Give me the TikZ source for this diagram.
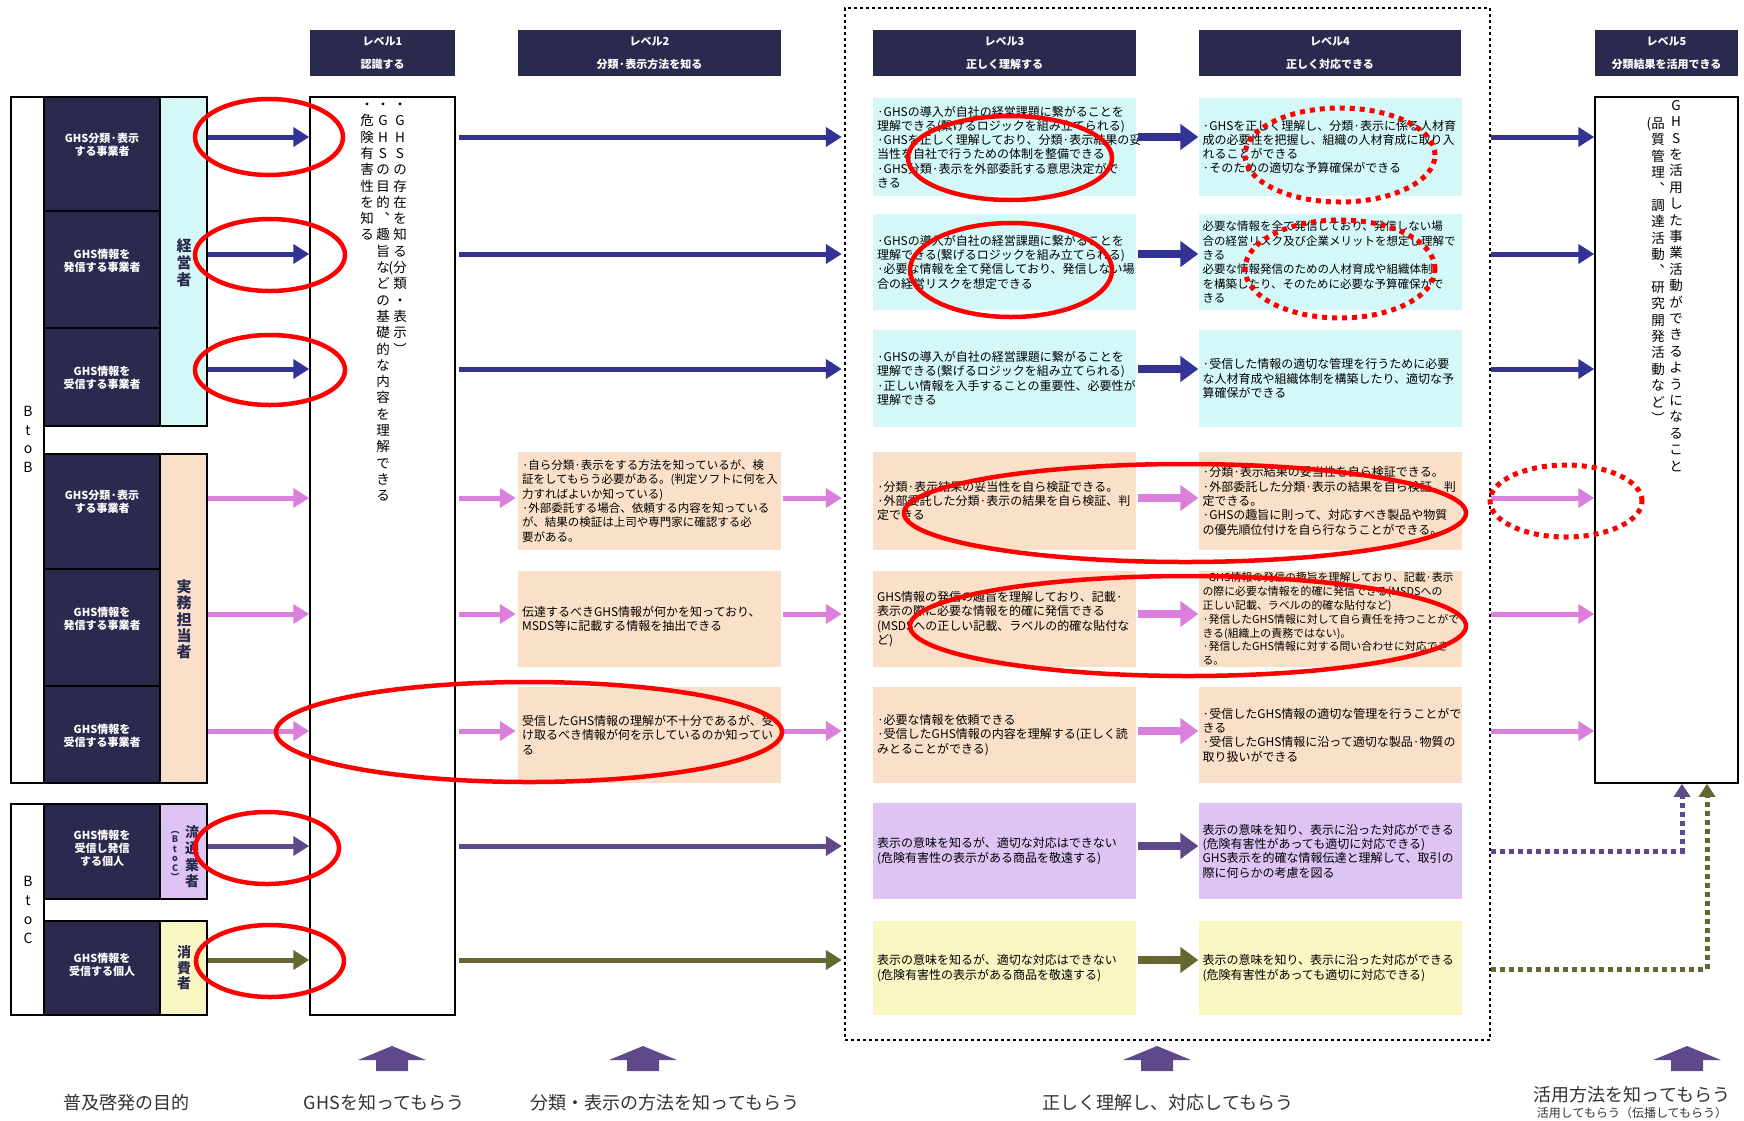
\documentclass[tikz,border=0pt]{standalone}
\usepackage{fontspec}
\setmainfont{Noto Sans CJK JP}
\usetikzlibrary{arrows.meta,calc}

\definecolor{hdrnavy}{RGB}{42,42,78}
\definecolor{flownavy}{RGB}{51,51,150}
\definecolor{flowpink}{RGB}{218,128,220}
\definecolor{flowpurple}{RGB}{96,73,138}
\definecolor{flowolive}{RGB}{102,102,51}
\definecolor{bgcyan}{RGB}{212,248,248}
\definecolor{bgpeach}{RGB}{250,224,200}
\definecolor{bglav}{RGB}{221,196,245}
\definecolor{bgyellow}{RGB}{248,246,194}
\definecolor{ringred}{RGB}{255,0,0}
\definecolor{labgray}{RGB}{50,50,50}

\newcommand\bodyfont{\fontsize{12}{14.3}\selectfont}
\newcommand\tightfont{\fontsize{11.5}{14.3}\selectfont}
\newcommand\hdrfont{\bfseries\fontsize{11}{23}\selectfont}
\newcommand\actorfont{\bfseries\fontsize{11}{13}\selectfont}

% one character per cell, stacked top to bottom
\def\vstkStop{\vstkEnd}
\def\vstkA#1{\def\vstkCur{#1}\ifx\vstkCur\vstkStop\else
  \hbox to 2em{\hss\vrule height .88em depth .12em width 0pt\relax#1\hss}%
  \expandafter\vstkA\fi}
\newcommand\vstk[2]{\vbox{\baselineskip=#1\lineskiplimit=-100pt\lineskip=0pt\vstkA#2\vstkEnd}}

\begin{document}
\begin{tikzpicture}[x=1pt,y=-1pt,
  hdr/.style={fill=hdrnavy, text=white, font=\hdrfont, align=center, minimum height=46pt, inner sep=0pt},
  grp/.style={draw=black, line width=2.2pt, fill=white, inner sep=0pt, minimum width=33pt},
  actor/.style={draw=black, line width=1.2pt, fill=hdrnavy, minimum width=116pt, inner sep=0pt},
  actortext/.style={text=white, font=\actorfont, align=center, inner sep=0pt},
  role/.style={draw=black, line width=1.5pt, minimum width=47pt, inner sep=0pt},
  lvcol/.style={draw=black, line width=1.5pt, fill=white, inner sep=0pt},
  cbox/.style={text width=255pt, inner xsep=4pt, inner ysep=0pt, align=left, font=\bodyfont},
  vtxt/.style={inner sep=0pt, anchor=north},
  flow/.style={line width=5pt, -{Triangle[length=16pt,width=19pt]}},
  flowB/.style={line width=8pt, -{Triangle[length=18pt,width=25pt]}},
  feed/.style={line width=5pt, dash pattern=on 5pt off 4pt, -{Triangle[length=13pt,width=16pt]}},
  ring/.style={draw=ringred, line width=4.5pt},
  dring/.style={draw=ringred, line width=5pt, dash pattern=on 5pt off 5pt},
  botlab/.style={text=labgray, font=\fontsize{18}{20}\selectfont, inner sep=0pt},
  uparrow/.style={fill=flowpurple}
]
\useasboundingbox (0,0) rectangle (1744,1120);
\fill[white] (0,0) rectangle (1744,1120);

% level 3-4 frame
\node[draw, line width=2.6pt, dash pattern=on 3pt off 3pt, minimum width=645pt, minimum height=1032pt, inner sep=0pt] (frame34) at (1167.5,524) {};

% level headers
\node[hdr, minimum width=145pt] (h1) at (382.5,53) {レベル1\\認識する};
\node[hdr, minimum width=263pt] (h2) at (649.5,53) {レベル2\\分類·表示方法を知る};
\node[hdr, minimum width=263pt] (h3) at (1004.5,53) {レベル3\\正しく理解する};
\node[hdr, minimum width=262pt] (h4) at (1330,53) {レベル4\\正しく対応できる};
\node[hdr, minimum width=143pt] (h5) at (1666.5,53) {レベル5\\分類結果を活用できる};

% BtoB / BtoC groups
\node[grp, minimum height=686pt] (btob) at (27.5,440) {};
\node[grp, minimum height=211pt] (btoc) at (27.5,909.5) {};
\node[vtxt, font=\fontsize{14}{14}\selectfont] (btobt) at (28,404) {\vstk{18.7pt}{BtoB}};
\node[vtxt, font=\fontsize{14}{14}\selectfont] (btoct) at (28,874) {\vstk{19pt}{BtoC}};

% actors
\node[actor, minimum height=114pt] (a1) at (102,154) {};
\node[actor, minimum height=117pt] (a2) at (102,269.5) {};
\node[actor, minimum height=98pt] (a3) at (102,377) {};
\node[actor, minimum height=115pt] (a4) at (102,511.5) {};
\node[actor, minimum height=117pt] (a5) at (102,627.5) {};
\node[actor, minimum height=97pt] (a6) at (102,734.5) {};
\node[actor, minimum height=95pt] (a7) at (102,851.5) {};
\node[actor, minimum height=94pt] (a8) at (102,968) {};
\node[actortext] (t1) at (102,145) {GHS分類·表示\\する事業者};
\node[actortext] (t2) at (102,261) {GHS情報を\\発信する事業者};
\node[actortext] (t3) at (102,378) {GHS情報を\\受信する事業者};
\node[actortext] (t4) at (102,502) {GHS分類·表示\\する事業者};
\node[actortext] (t5) at (102,619) {GHS情報を\\発信する事業者};
\node[actortext] (t6) at (102,736) {GHS情報を\\受信する事業者};
\node[actortext] (t7) at (102,848) {GHS情報を\\受信し発信\\する個人};
\node[actortext] (t8) at (102,965) {GHS情報を\\受信する個人};

% roles
\node[role, fill=bgcyan, minimum height=329pt] (ro1) at (183.5,261.5) {};
\node[role, fill=bgpeach, minimum height=329pt] (ro2) at (183.5,618.5) {};
\node[role, fill=bglav, minimum height=95pt] (ro3) at (183.5,851.5) {};
\node[role, fill=bgyellow, minimum height=94pt] (ro4) at (183.5,968) {};
\node[vtxt, text=hdrnavy, font=\bfseries\fontsize{15}{15}\selectfont] (rt1) at (184,238) {\vstk{17pt}{経営者}};
\node[vtxt, text=hdrnavy, font=\bfseries\fontsize{15}{15}\selectfont] (rt2) at (184,579) {\vstk{16.3pt}{実務担当者}};
\node[vtxt, text=hdrnavy, font=\bfseries\fontsize{9}{9}\selectfont] (rt3a) at (175,825) {\vstk{9.5pt}{︵BtoC︶}};
\node[vtxt, text=hdrnavy, font=\bfseries\fontsize{14}{14}\selectfont] (rt3b) at (192,825) {\vstk{16.3pt}{流通業者}};
\node[vtxt, text=hdrnavy, font=\bfseries\fontsize{14}{14}\selectfont] (rt4) at (184,945) {\vstk{15.5pt}{消費者}};

% level 1 and level 5 columns
\node[lvcol, minimum width=145pt, minimum height=918pt] (lv1) at (382.5,556) {};
\node[lvcol, minimum width=143pt, minimum height=686pt] (lv5) at (1666.5,440) {};
\node[vtxt, font=\fontsize{13.5}{13.5}\selectfont] (lv1a) at (400,97.5) {\vstk{16.3pt}{・GHSの存在を知る{\llap{(}分}類・表示︶}};
\node[vtxt, font=\fontsize{13.5}{13.5}\selectfont] (lv1b) at (383,97.5) {\vstk{16.3pt}{・GHSの目的︑趣旨などの基礎的な内容を理解できる}};
\node[vtxt, font=\fontsize{13.5}{13.5}\selectfont] (lv1c) at (367,97.5) {\vstk{16.3pt}{・危険有害性を知る}};
\node[vtxt, font=\fontsize{13.5}{13.5}\selectfont] (lv5a) at (1676,98.3) {\vstk{16.4pt}{GHSを活用した事業活動ができるようになること}};
\node[vtxt, font=\fontsize{13.5}{13.5}\selectfont] (lv5b) at (1658,116.3) {\vstk{16.4pt}{{\llap{(}品}質管理︑調達活動︑研究開発活動など︶}};

% level 2 statements
\node[cbox, fill=bgpeach, minimum height=98pt, font=\tightfont] (l2r4) at (649.5,501) {·自ら分類·表示をする方法を知っているが、検\\証をしてもらう必要がある。(判定ソフトに何を入\\力すればよいか知っている)\\·外部委託する場合、依頼する内容を知っている\\が、結果の検証は上司や専門家に確認する必\\要がある。};
\node[cbox, fill=bgpeach, minimum height=96pt] (l2r5) at (649.5,619) {伝達するべきGHS情報が何かを知っており、\\MSDS等に記載する情報を抽出できる};
\node[cbox, fill=bgpeach, minimum height=96pt] (l2r6) at (649.5,735) {受信したGHS情報の理解が不十分であるが、受\\け取るべき情報が何を示しているのか知ってい\\る};

% level 3 statements
\node[cbox, fill=bgcyan, minimum height=98pt] (l3r1) at (1004.5,147) {·GHSの導入が自社の経営課題に繋がることを\\理解できる(繋げるロジックを組み立てられる)\\·GHSを正しく理解しており、分類·表示結果の妥\\当性を自社で行うための体制を整備できる\\·GHS分類·表示を外部委託する意思決定がで\\きる};
\node[cbox, fill=bgcyan, minimum height=96pt] (l3r2) at (1004.5,262) {·GHSの導入が自社の経営課題に繋がることを\\理解できる(繋げるロジックを組み立てられる)\\·必要な情報を全て発信しており、発信しない場\\合の経営リスクを想定できる};
\node[cbox, fill=bgcyan, minimum height=97pt] (l3r3) at (1004.5,378.5) {·GHSの導入が自社の経営課題に繋がることを\\理解できる(繋げるロジックを組み立てられる)\\·正しい情報を入手することの重要性、必要性が\\理解できる};
\node[cbox, fill=bgpeach, minimum height=98pt] (l3r4) at (1004.5,501) {·分類·表示結果の妥当性を自ら検証できる。\\·外部委託した分類·表示の結果を自ら検証、判\\定できる};
\node[cbox, fill=bgpeach, minimum height=96pt] (l3r5) at (1004.5,619) {GHS情報の発信の趣旨を理解しており、記載·\\表示の際に必要な情報を的確に発信できる\\(MSDSへの正しい記載、ラベルの的確な貼付な\\ど)};
\node[cbox, fill=bgpeach, minimum height=96pt] (l3r6) at (1004.5,735) {·必要な情報を依頼できる\\·受信したGHS情報の内容を理解する(正しく読\\みとることができる)};
\node[cbox, fill=bglav, minimum height=96pt] (l3r7) at (1004.5,851) {表示の意味を知るが、適切な対応はできない\\(危険有害性の表示がある商品を敬遠する)};
\node[cbox, fill=bgyellow, minimum height=94pt] (l3r8) at (1004.5,968) {表示の意味を知るが、適切な対応はできない\\(危険有害性の表示がある商品を敬遠する)};

% level 4 statements
\node[cbox, fill=bgcyan, minimum height=98pt] (l4r1) at (1330,147) {·GHSを正しく理解し、分類·表示に係る人材育\\成の必要性を把握し、組織の人材育成に取り入\\れることができる\\·そのための適切な予算確保ができる};
\node[cbox, fill=bgcyan, minimum height=96pt, font=\tightfont] (l4r2) at (1330,262) {必要な情報を全て発信しており、発信しない場\\合の経営リスク及び企業メリットを想定し理解で\\きる\\必要な情報発信のための人材育成や組織体制\\を構築したり、そのために必要な予算確保がで\\きる};
\node[cbox, fill=bgcyan, minimum height=97pt] (l4r3) at (1330,378.5) {·受信した情報の適切な管理を行うために必要\\な人材育成や組織体制を構築したり、適切な予\\算確保ができる};
\node[cbox, fill=bgpeach, minimum height=98pt] (l4r4) at (1330,501) {·分類·表示結果の妥当性を自ら検証できる。\\·外部委託した分類·表示の結果を自ら検証、判\\定できる。\\·GHSの趣旨に則って、対応すべき製品や物質\\の優先順位付けを自ら行なうことができる。};
\node[cbox, fill=bgpeach, minimum height=96pt, font=\fontsize{10.9}{13.8}\selectfont] (l4r5) at (1330,619) {·GHS情報の発信の趣旨を理解しており、記載·表示\\の際に必要な情報を的確に発信できる(MSDSへの\\正しい記載、ラベルの的確な貼付など)\\·発信したGHS情報に対して自ら責任を持つことがで\\きる(組織上の責務ではない)。\\·発信したGHS情報に対する問い合わせに対応でき\\る。};
\node[cbox, fill=bgpeach, minimum height=96pt] (l4r6) at (1330,735) {·受信したGHS情報の適切な管理を行うことがで\\きる\\·受信したGHS情報に沿って適切な製品·物質の\\取り扱いができる};
\node[cbox, fill=bglav, minimum height=96pt] (l4r7) at (1330,851) {表示の意味を知り、表示に沿った対応ができる\\(危険有害性があっても適切に対応できる)\\GHS表示を的確な情報伝達と理解して、取引の\\際に何らかの考慮を図る};
\node[cbox, fill=bgyellow, minimum height=94pt] (l4r8) at (1330,968) {表示の意味を知り、表示に沿った対応ができる\\(危険有害性があっても適切に対応できる)};

% row heights of the flows
\coordinate (y1) at (0,137);
\coordinate (y2) at (0,254);
\coordinate (y3) at (0,369);
\coordinate (y4) at (0,498);
\coordinate (y5) at (0,614);
\coordinate (y6) at (0,731);
\coordinate (y7) at (0,846);
\coordinate (y8) at (0,960);
\coordinate (y7f) at (0,851);
\coordinate (y8f) at (0,969);
\coordinate (f7) at (1682,0);
\coordinate (f8) at (1707,0);

% management rows
\foreach \r/\ro in {1/ro1,2/ro1,3/ro1}{
  \draw[flow, flownavy] (\ro.east |- y\r) -- (lv1.west |- y\r);
  \draw[flow, flownavy] ($(lv1.east |- y\r)+(3,0)$) -- ($(l3r\r.west |- y\r)+(-31,0)$);
  \draw[flowB, flownavy] ($(l3r\r.east |- y\r)+(2,0)$) -- (l4r\r.west |- y\r);
  \draw[flow, flownavy] (frame34.east |- y\r) -- (lv5.west |- y\r);
}
% practitioner rows
\foreach \r in {4,5,6}{
  \draw[flow, flowpink] (ro2.east |- y\r) -- (lv1.west |- y\r);
  \draw[flow, flowpink] ($(lv1.east |- y\r)+(3,0)$) -- ($(l2r\r.west |- y\r)+(-2,0)$);
  \draw[flow, flowpink] ($(l2r\r.east |- y\r)+(2,0)$) -- ($(l3r\r.west |- y\r)+(-31,0)$);
  \draw[flowB, flowpink] ($(l3r\r.east |- y\r)+(2,0)$) -- (l4r\r.west |- y\r);
  \draw[flow, flowpink] (frame34.east |- y\r) -- (lv5.west |- y\r);
}
% distributor row
\draw[flow, flowpurple] (ro3.east |- y7) -- (lv1.west |- y7);
\draw[flow, flowpurple] ($(lv1.east |- y7)+(3,0)$) -- ($(l3r7.west |- y7)+(-31,0)$);
\draw[flowB, flowpurple] ($(l3r7.east |- y7)+(2,0)$) -- (l4r7.west |- y7);
\draw[feed, flowpurple] (frame34.east |- y7f) -| (lv5.south -| f7);
% consumer row
\draw[flow, flowolive] (ro4.east |- y8) -- (lv1.west |- y8);
\draw[flow, flowolive] ($(lv1.east |- y8)+(3,0)$) -- ($(l3r8.west |- y8)+(-31,0)$);
\draw[flowB, flowolive] ($(l3r8.east |- y8)+(2,0)$) -- (l4r8.west |- y8);
\draw[feed, flowolive] (frame34.east |- y8f) -| (lv5.south -| f8);

% highlight rings
\draw[ring] (269,137) ellipse [x radius=74pt, y radius=38pt];
\draw[ring] (270,255) ellipse [x radius=75pt, y radius=36pt];
\draw[ring] (270,370) ellipse [x radius=75pt, y radius=35pt];
\draw[ring] (267,848) ellipse [x radius=72pt, y radius=36pt];
\draw[ring] (270,961) ellipse [x radius=74pt, y radius=36pt];
\draw[ring] (529,732) ellipse [x radius=253pt, y radius=50pt];
\draw[ring] (1010,158) ellipse [x radius=102pt, y radius=42pt];
\draw[ring] (1011,270) ellipse [x radius=101pt, y radius=47pt];
\draw[ring] (1185,513) ellipse [x radius=281pt, y radius=49pt];
\draw[ring] (1188,626) ellipse [x radius=278pt, y radius=50pt];
\draw[dring] (1340,155) ellipse [x radius=95pt, y radius=47pt];
\draw[dring] (1340,269) ellipse [x radius=95pt, y radius=49pt];
\draw[dring] (1566,501) ellipse [x radius=76pt, y radius=36pt];

% bottom arrows
\foreach \cx in {392,643,1157,1687}{
  \fill[uparrow] (\cx,1046) -- (\cx+34,1060) -- (\cx+16,1060) -- (\cx+16,1071)
    -- (\cx-16,1071) -- (\cx-16,1060) -- (\cx-34,1060) -- cycle;
}

% bottom captions
\node[botlab] (g0) at (126,1103) {普及啓発の目的};
\node[botlab] (g1) at (384,1103) {GHSを知ってもらう};
\node[botlab] (g2) at (665,1103) {分類・表示の方法を知ってもらう};
\node[botlab] (g3) at (1168,1103) {正しく理解し、対応してもらう};
\node[botlab] (g4) at (1632,1095) {活用方法を知ってもらう};
\node[text=labgray, font=\fontsize{12}{14}\selectfont, inner sep=0pt] (g5) at (1632,1113) {活用してもらう（伝播してもらう）};
\end{tikzpicture}
\end{document}
